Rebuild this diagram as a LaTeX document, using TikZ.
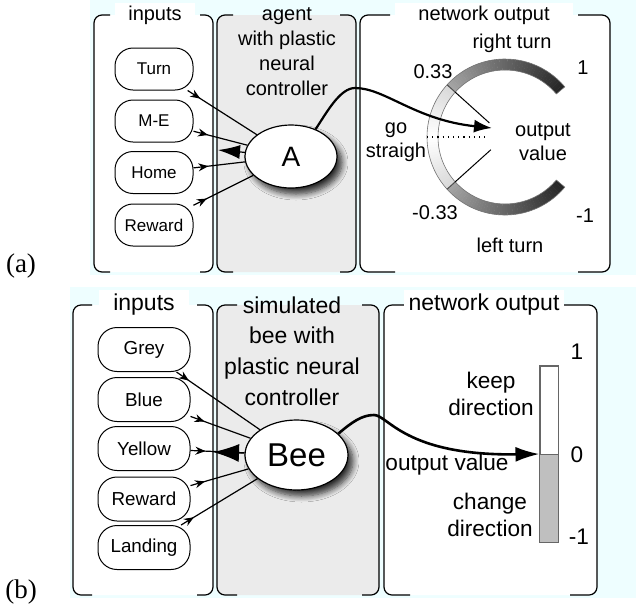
\documentclass[tikz,border=0pt]{standalone}
\usepackage{fontspec}
\setmainfont{Liberation Sans}
\newfontfamily\tagfont{Liberation Serif}
\usetikzlibrary{arrows.meta, positioning, shapes.geometric, shadows.blur, decorations.markings}
\definecolor{panelbg}{RGB}{238,254,255}
\definecolor{agentgray}{RGB}{235,235,235}

\begin{document}
\begin{tikzpicture}[x=0.5pt, y=-0.5pt,
    frame/.style={line width=0.6pt, rounded corners=4pt},
    titleA/.style={font=\fontsize{10}{12.5}\selectfont, align=center, inner sep=1pt},
    titleB/.style={font=\fontsize{11.5}{15.3}\selectfont, align=center, inner sep=1pt},
    labA/.style={font=\fontsize{10}{12}\selectfont, align=center, inner sep=0pt},
    labB/.style={font=\fontsize{11.3}{13.5}\selectfont, align=center, inner sep=0pt},
    inA/.style={draw, line width=0.5pt, fill=white, rounded corners=9pt, minimum width=39pt, minimum height=21pt, font=\fontsize{8.5}{10}\selectfont},
    inB/.style={draw, line width=0.5pt, fill=white, rounded corners=9.5pt, minimum width=46pt, minimum height=22pt, font=\fontsize{9.4}{11}\selectfont},
    unit/.style={draw, ellipse, fill=white, line width=0.6pt, inner sep=0pt, blur shadow={shadow xshift=2.5pt, shadow yshift=-3pt, shadow blur steps=8, shadow blur radius=3pt, shadow opacity=80}},
    feed/.style={line width=0.6pt, postaction={decorate}, decoration={markings, mark=at position 7.5pt with {\arrow{Stealth[length=5pt,width=4pt]}}}}]
    \useasboundingbox (0,0) rectangle (636,606);

    % Panel backgrounds
    \fill[panelbg] (90,0) rectangle (636,275);
    \fill[panelbg] (70,287) rectangle (636,598);

    % ---------- (a) ----------
    % Frames
    \fill[white, rounded corners=4pt] (94,15) rectangle (213,272);
    \draw[frame] (110,15) -- (94,15) -- (94,272) -- (110,272);
    \draw[frame] (200,15) -- (213,15) -- (213,272) -- (200,272);
    \fill[agentgray, rounded corners=4pt] (217,15) rectangle (356,272);
    \draw[frame] (233,15) -- (217,15) -- (217,272) -- (233,272);
    \draw[frame] (340,15) -- (356,15) -- (356,272) -- (340,272);
    \fill[white, rounded corners=4pt] (360,15) rectangle (610,272);
    \draw[frame] (390,15) -- (360,15) -- (360,272) -- (395,272);
    \draw[frame] (578,15) -- (610,15) -- (610,272) -- (578,272);

    % Titles
    \node[titleA, fill=white, minimum width=40pt, minimum height=12pt] (inTitleA) at (155,15) {inputs};
    \node[titleA] (agentTitle) at (287,52) {agent\\with plastic\\neural\\controller};
    \node[titleA, fill=white, minimum width=89pt, minimum height=12pt] (outTitleA) at (484,15) {network output};

    % Inputs
    \node[inA] (turn) at (154,69) {Turn};
    \node[inA] (me) at (154,121) {M-E};
    \node[inA] (home) at (154,172.5) {Home};
    \node[inA] (rewardA) at (154,225) {Reward};

    % Agent
    \node[unit, minimum width=46pt, minimum height=31.5pt, font=\fontsize{14}{16}\selectfont] (A) at (291,156.5) {A};

    % Gauge
    \begin{scope}[shift={(505,137)}]
        \foreach \a in {40,42,...,178}{
            \pgfmathsetmacro\shade{\a<138 ? 85-(\a-40)*50/98 : 15-(\a-138)*15/40}
            \pgfmathsetmacro\b{\a+2.3}
            \fill[black!\shade] (\a:78) arc[start angle=\a, end angle=\b, radius=78] -- (\b:67) arc[start angle=\b, end angle=\a, radius=67] -- cycle;
            \fill[black!\shade] (-\a:78) arc[start angle=-\a, end angle=-\b, radius=78] -- (-\b:67) arc[start angle=-\b, end angle=-\a, radius=67] -- cycle;
        }
        \draw[black!55, line width=0.3pt] (40:78) arc[start angle=40, end angle=320, radius=78] -- (320:67) arc[start angle=320, end angle=40, radius=67] -- cycle;
        \draw[black!70, line width=0.5pt] (138:78) -- (138:67) (222:78) -- (222:67);
        \draw[line width=0.5pt] (138:67) -- (138:19) (222:67) -- (222:21);
        \draw[dotted, line width=0.6pt] (180:78) -- (180:17);
    \end{scope}
    \coordinate (dialA) at (492,128);

    % Gauge labels
    \node[labA] (rightTurn) at (512,43) {right turn};
    \node[labA] (plusA) at (433,72) {0.33};
    \node[labA] (oneA) at (583,68) {1};
    \node[labA] (straight) at (396,142) {go\\straigh};
    \node[labA] (valueA) at (543,142) {output\\value};
    \node[labA] (minusA) at (435,213) {-0.33};
    \node[labA] (negA) at (585,216) {-1};
    \node[labA] (leftTurn) at (510,245) {left turn};

    % Arrows
    \draw[feed] (turn) -- (A);
    \draw[feed] (me) -- (A);
    \draw[feed] (home) -- (A);
    \draw[feed] (rewardA) -- (A);
    \coordinate (backA) at (218,150);
    \draw[line width=0.6pt, -{Latex[length=11pt,width=7pt]}] (A) -- (backA);
    \coordinate (peakA) at (355,88);
    \draw[line width=1.1pt, -{Latex[length=9pt,width=6.5pt]}] (A.48) .. controls (327,112) and (340,88) .. (peakA) .. controls (385,88) and (415,120) .. (dialA);

    \node[font=\tagfont\fontsize{13.5}{15}\selectfont] (tagA) at (21,266) {(a)};

    % ---------- (b) ----------
    % Frames
    \fill[white, rounded corners=4pt] (73,305) rectangle (213,595);
    \draw[frame] (92,305) -- (73,305) -- (73,595) -- (92,595);
    \draw[frame] (197,305) -- (213,305) -- (213,595) -- (197,595);
    \fill[agentgray, rounded corners=4pt] (217,305) rectangle (379,595);
    \draw[frame] (237,305) -- (217,305) -- (217,595) -- (237,595);
    \draw[frame] (362,305) -- (379,305) -- (379,595) -- (362,595);
    \fill[white, rounded corners=4pt] (384,305) rectangle (597,595);
    \draw[frame] (407,305) -- (384,305) -- (384,595) -- (410,595);
    \draw[frame] (563,305) -- (597,305) -- (597,595) -- (570,595);

    % Titles
    \node[titleB, fill=white, minimum width=45pt, minimum height=15pt] (inTitleB) at (144,305) {inputs};
    \node[titleB] (beeTitle) at (292,351) {simulated\\bee with\\plastic neural\\controller};
    \node[titleB, fill=white, minimum width=80pt, minimum height=15pt] (outTitleB) at (484,305) {network output};

    % Inputs
    \node[inB] (grey) at (144,349.5) {Grey};
    \node[inB] (blue) at (144,399.5) {Blue};
    \node[inB] (yellow) at (144,448.5) {Yellow};
    \node[inB] (rewardB) at (144,499) {Reward};
    \node[inB] (landing) at (144,547.5) {Landing};

    % Bee
    \node[unit, minimum width=51.5pt, minimum height=35pt, font=\fontsize{16.5}{18}\selectfont] (bee) at (296.5,455) {Bee};

    % Output bar
    \node[draw=black!60, line width=0.5pt, fill=white, minimum width=9pt, minimum height=88pt, inner sep=0pt] (bar) at (549,454) {};
    \fill[black!25] (bar.west) rectangle (bar.south east);
    \draw[black!60, line width=0.5pt] (bar.north west) rectangle (bar.south east) (bar.west) -- (bar.east);

    % Bar labels
    \node[labB] (oneB) at (577,352) {1};
    \node[labB] (keep) at (491,393.5) {keep\\direction};
    \node[labB] (zeroB) at (577,455) {0};
    \node[labB] (valueB) at (447,465) {output value};
    \node[labB] (change) at (490,515) {change\\direction};
    \node[labB] (negB) at (579,537) {-1};

    % Arrows
    \draw[feed] (grey) -- (bee);
    \draw[feed] (blue) -- (bee);
    \draw[feed] (yellow) -- (bee);
    \draw[feed] (rewardB) -- (bee);
    \draw[feed] (landing) -- (bee);
    \coordinate (backB) at (213,452);
    \draw[line width=0.6pt, -{Latex[length=13pt,width=9pt]}] (bee) -- (backB);
    \coordinate (peakB) at (374,415);
    \draw[line width=1.3pt, -{Latex[length=12pt,width=7.5pt]}] (bee.27) .. controls (352,422) and (362,415) .. (peakB) .. controls (388,415) and (405,456) .. (bar.west);

    \node[font=\tagfont\fontsize{13.5}{15}\selectfont] (tagB) at (21,592) {(b)};
\end{tikzpicture}
\end{document}
